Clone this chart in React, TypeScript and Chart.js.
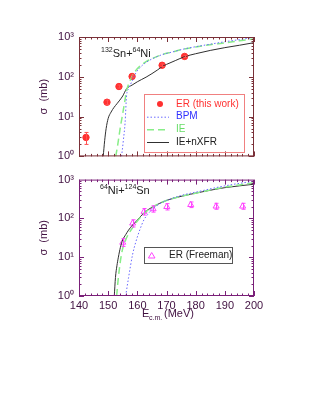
import React, { useEffect, useRef } from 'react';
import { Chart, registerables } from 'chart.js';
Chart.register(...registerables);

const FONT = '"Liberation Sans", Arial, sans-serif';
const yTickLabels = ['10⁰', '10¹', '10²', '10³'];
const xMin = 140;
const xMax = 200;

// Top panel: 132Sn + 64Ni
const topErX = [142.4, 149.6, 153.7, 158.2, 168.5, 176.2];
const topErY = [3, 23, 57, 102, 195, 325];
const topErLo = [2, 20, 52, 94, 180, 305];
const topErHi = [4, 26, 62, 110, 210, 345];

const topBpmX = [154.6, 155.2, 155.8, 156.3, 157.0, 158.2, 159.5, 160.9, 163, 165, 168.5, 172, 176, 180, 185, 190, 195, 200];
const topBpmY = [1, 2.5, 7, 33, 50, 78, 125, 170, 230, 280, 360, 420, 500, 570, 660, 760, 860, 980];

const topIeX = [152.6, 153.3, 154.1, 155.0, 155.8, 156.3, 157.2, 158.2, 159.5, 160.9, 163, 165, 168.5, 172, 176, 180, 185, 190, 195, 200];
const topIeY = [1, 2, 5, 12, 27, 45, 70, 104, 145, 185, 240, 285, 360, 420, 500, 560, 640, 710, 800, 890];

const topNxfrX = [148.3, 148.8, 149.3, 150, 151, 152, 153, 154, 155, 156.3, 158.2, 160, 163, 165, 167, 168.5, 170, 173, 176.2, 180, 185, 190, 195, 200];
const topNxfrY = [1, 2.5, 5, 9, 13, 17, 21, 26, 33, 50, 62, 75, 98, 120, 150, 180, 205, 255, 320, 380, 460, 540, 620, 720];

// Bottom panel: 64Ni + 124Sn
const botErX = [155.0, 158.4, 162.3, 165.4, 170.1, 178.3, 187.0, 196.1];
const botErY = [24, 75, 150, 175, 200, 225, 205, 205];
const botErLo = [19, 60, 122, 145, 165, 190, 172, 172];
const botErHi = [30, 92, 180, 210, 240, 265, 245, 245];

const botBpmX = [156.0, 157, 158.4, 159.5, 160.9, 162.3, 163.5, 165.4, 168, 170, 175, 181.4, 186, 190, 195, 200];
const botBpmY = [1, 3, 12, 25, 52, 93, 125, 180, 245, 290, 390, 500, 600, 690, 800, 910];

const botIeX = [152.9, 153.5, 154.2, 155, 156, 157, 158.4, 160, 162.3, 165.4, 170, 175, 181.4, 186, 190, 195, 200];
const botIeY = [1, 3, 8, 17, 28, 40, 58, 85, 135, 200, 290, 370, 470, 560, 640, 730, 830];

const botNxfrX = [152.1, 152.5, 153, 153.5, 154.2, 155, 156, 157, 158.4, 160, 162.3, 165.4, 170, 175, 181.4, 186, 190, 195, 200];
const botNxfrY = [1, 3, 6, 10, 18, 28, 38, 50, 68, 90, 140, 200, 290, 370, 470, 550, 620, 690, 760];

const pts = (xs: number[], ys: number[]) => xs.map((x, i) => ({ x, y: ys[i] }));

const RED = '#ff3030';
const BLUE = '#6a6aff';
const GREEN = '#88ee88';
const BLACK = '#303030';
const MAGENTA = '#ff44ff';
const LABEL = '#401040';

function lineDs(label: string, xs: number[], ys: number[], color: string, dash: number[], width: number) {
  return {
    label,
    data: pts(xs, ys),
    borderColor: color,
    backgroundColor: color,
    borderWidth: width,
    borderDash: dash,
    pointRadius: 0,
    fill: false,
    cubicInterpolationMode: 'monotone' as const,
    showLine: true,
  };
}

function drawRich(ctx: CanvasRenderingContext2D, parts: [string, boolean][], x: number, y: number, color: string) {
  ctx.fillStyle = color;
  ctx.textBaseline = 'alphabetic';
  ctx.textAlign = 'left';
  let cx = x;
  for (const [t, sup] of parts) {
    ctx.font = sup ? `7px ${FONT}` : `11px ${FONT}`;
    ctx.fillText(t, cx, sup ? y - 5 : y);
    cx += ctx.measureText(t).width;
  }
}

type PanelOpts = {
  frame: string;
  errors: { x: number[]; lo: number[]; hi: number[]; color: string }[];
  deco: (ctx: CanvasRenderingContext2D, chart: any) => void;
};

function panelPlugin(o: PanelOpts) {
  return {
    id: 'panelDeco',
    afterDatasetsDraw(chart: any) {
      const { ctx, chartArea: a, scales } = chart;
      const xs = scales.x;
      const ys = scales.y;
      ctx.save();
      for (const e of o.errors) {
        ctx.strokeStyle = e.color;
        ctx.lineWidth = 1;
        ctx.beginPath();
        e.x.forEach((xv, i) => {
          const px = Math.round(xs.getPixelForValue(xv)) + 0.5;
          const y1 = ys.getPixelForValue(e.lo[i]);
          const y2 = ys.getPixelForValue(e.hi[i]);
          ctx.moveTo(px, y1);
          ctx.lineTo(px, y2);
          ctx.moveTo(px - 2, y1);
          ctx.lineTo(px + 2, y1);
          ctx.moveTo(px - 2, y2);
          ctx.lineTo(px + 2, y2);
        });
        ctx.stroke();
      }
      ctx.strokeStyle = o.frame;
      ctx.lineWidth = 1;
      ctx.strokeRect(a.left + 0.5, a.top + 0.5, a.right - a.left - 1, a.bottom - a.top - 1);
      ctx.beginPath();
      for (let v = xMin; v <= xMax; v += 2) {
        const px = Math.round(xs.getPixelForValue(v)) + 0.5;
        const len = v % 10 === 0 ? 5 : 2.5;
        ctx.moveTo(px, a.bottom);
        ctx.lineTo(px, a.bottom - len);
        ctx.moveTo(px, a.top);
        ctx.lineTo(px, a.top + len);
      }
      for (let d = 0; d < 3; d++) {
        for (let m = 1; m <= 9; m++) {
          const v = m * Math.pow(10, d);
          const py = Math.round(ys.getPixelForValue(v)) + 0.5;
          const len = m === 1 ? 5 : 2.5;
          ctx.moveTo(a.left, py);
          ctx.lineTo(a.left + len, py);
          ctx.moveTo(a.right, py);
          ctx.lineTo(a.right - len, py);
        }
      }
      ctx.stroke();
      // y title
      ctx.save();
      ctx.translate(44, (a.top + a.bottom) / 2);
      ctx.rotate(-Math.PI / 2);
      ctx.fillStyle = LABEL;
      ctx.font = `11px ${FONT}`;
      ctx.textAlign = 'center';
      ctx.textBaseline = 'middle';
      ctx.fillText('σ  (mb)', 0, 0);
      ctx.restore();
      o.deco(ctx, chart);
      ctx.restore();
    },
  };
}

function yTick(value: any) {
  const l = Math.log10(Number(value));
  const r = Math.round(l);
  return Math.abs(l - r) < 1e-6 ? yTickLabels[r] : '';
}

function makeOptions(showX: boolean, top: number, bottom: number) {
  return {
    animation: false as const,
    responsive: false,
    maintainAspectRatio: false,
    layout: { padding: { left: 39, right: 58, top, bottom } },
    plugins: { legend: { display: false }, tooltip: { enabled: false } },
    scales: {
      x: {
        type: 'linear' as const,
        min: xMin,
        max: xMax,
        grid: { display: false, drawTicks: false },
        border: { display: false },
        ticks: {
          display: showX,
          stepSize: 10,
          padding: 3,
          color: LABEL,
          font: { family: FONT, size: 11 },
          maxRotation: 0,
        },
        afterFit: (s: any) => {
          s.height = showX ? 20 : 0;
        },
      },
      y: {
        type: 'logarithmic' as const,
        min: 1,
        max: 1000,
        grid: { display: false, drawTicks: false },
        border: { display: false },
        ticks: {
          autoSkip: false,
          padding: 5,
          color: LABEL,
          font: { family: FONT, size: 11 },
          callback: yTick,
        },
        afterFit: (s: any) => {
          s.width = 40;
        },
      },
    },
  };
}

function Panel(props: { height: number; top: number; build: () => any }) {
  const ref = useRef<HTMLCanvasElement | null>(null);
  useEffect(() => {
    if (!ref.current) return;
    const chart = new Chart(ref.current, props.build());
    return () => chart.destroy();
  }, []);
  return (
    <canvas
      ref={ref}
      width={312}
      height={props.height}
      style={{ position: 'absolute', left: 0, top: props.top, width: 312, height: props.height, display: 'block' }}
    />
  );
}

function buildTop() {
  return {
    type: 'scatter' as const,
    data: {
      datasets: [
        lineDs('BPM', topBpmX, topBpmY, BLUE, [1.5, 2], 1),
        lineDs('IE', topIeX, topIeY, GREEN, [7, 4], 1.5),
        lineDs('IE+nXFR', topNxfrX, topNxfrY, BLACK, [], 1),
        {
          label: 'ER (this work)',
          data: pts(topErX, topErY),
          pointRadius: 3.2,
          pointStyle: 'circle',
          backgroundColor: RED,
          borderColor: RED,
          showLine: false,
        },
      ],
    },
    options: makeOptions(false, 37, 10),
    plugins: [
      panelPlugin({
        frame: '#7a3038',
        errors: [{ x: topErX, lo: topErLo, hi: topErHi, color: '#ff5050' }],
        deco: (ctx) => {
          drawRich(ctx, [['132', true], ['Sn+', false], ['64', true], ['Ni', false]], 101, 57, '#202020');
          ctx.strokeStyle = '#f08080';
          ctx.lineWidth = 1;
          ctx.strokeRect(144.5, 94.5, 100, 58);
          ctx.font = `10px ${FONT}`;
          ctx.textBaseline = 'middle';
          ctx.textAlign = 'left';
          ctx.fillStyle = RED;
          ctx.beginPath();
          ctx.arc(160, 104, 3, 0, Math.PI * 2);
          ctx.fill();
          ctx.fillText('ER (this work)', 176, 104);
          const rows: [string, string, number[], number, number][] = [
            ['BPM', BLUE, [1.5, 2], 1, 116.7],
            ['IE', GREEN, [7, 4], 1.5, 129.3],
            ['IE+nXFR', BLACK, [], 1, 142],
          ];
          for (const [t, c, dash, w, y] of rows) {
            ctx.strokeStyle = c;
            ctx.lineWidth = w;
            ctx.setLineDash(dash);
            ctx.beginPath();
            ctx.moveTo(147, y + 0.5);
            ctx.lineTo(169, y + 0.5);
            ctx.stroke();
            ctx.setLineDash([]);
            ctx.fillStyle = c === GREEN ? '#66dd66' : c === BLUE ? '#3030ff' : '#202020';
            ctx.fillText(t, 176, y);
          }
        },
      }),
    ],
  };
}

function buildBottom() {
  return {
    type: 'scatter' as const,
    data: {
      datasets: [
        lineDs('BPM', botBpmX, botBpmY, BLUE, [1.5, 2], 1),
        lineDs('IE', botIeX, botIeY, GREEN, [7, 4], 1.5),
        lineDs('IE+nXFR', botNxfrX, botNxfrY, BLACK, [], 1),
        {
          label: 'ER (Freeman)',
          data: pts(botErX, botErY),
          pointRadius: 3.5,
          pointStyle: 'triangle',
          backgroundColor: 'rgba(0,0,0,0)',
          borderColor: MAGENTA,
          borderWidth: 1,
          showLine: false,
        },
      ],
    },
    options: makeOptions(true, 7, 87),
    plugins: [
      panelPlugin({
        frame: '#7a2078',
        errors: [{ x: botErX, lo: botErLo, hi: botErHi, color: MAGENTA }],
        deco: (ctx) => {
          drawRich(ctx, [['64', true], ['Ni+', false], ['124', true], ['Sn', false]], 100, 26, '#202020');
          ctx.strokeStyle = '#555555';
          ctx.lineWidth = 1;
          ctx.strokeRect(144.5, 79.5, 88, 16);
          ctx.strokeStyle = MAGENTA;
          ctx.beginPath();
          ctx.moveTo(151.7, 84.5);
          ctx.lineTo(155, 90);
          ctx.lineTo(148.4, 90);
          ctx.closePath();
          ctx.stroke();
          ctx.font = `10px ${FONT}`;
          ctx.textBaseline = 'middle';
          ctx.textAlign = 'left';
          ctx.fillStyle = '#202020';
          ctx.fillText('ER (Freeman)', 169, 87.5);
          // x title
          ctx.fillStyle = LABEL;
          ctx.font = `11px ${FONT}`;
          ctx.textBaseline = 'alphabetic';
          ctx.fillText('E', 142, 149);
          ctx.font = `7px ${FONT}`;
          ctx.fillText('c.m.', 149, 152);
          ctx.font = `11px ${FONT}`;
          ctx.fillText('(MeV)', 164, 149);
        },
      }),
    ],
  };
}

export default function App() {
  return (
    <div style={{ position: 'absolute', left: 0, top: 0, width: 312, height: 403, background: '#ffffff' }}>
      <Panel height={168} top={0} build={buildTop} />
      <Panel height={235} top={168} build={buildBottom} />
    </div>
  );
}
